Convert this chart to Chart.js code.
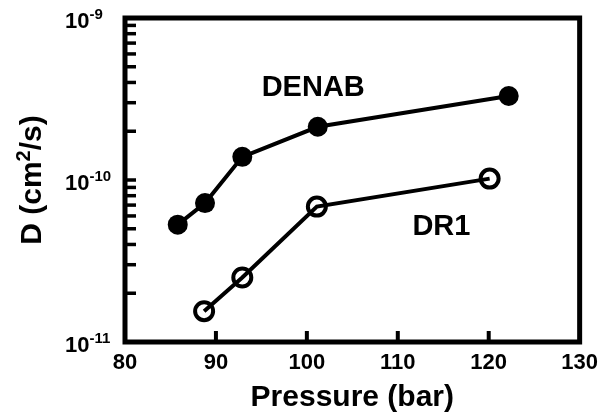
<!DOCTYPE html>
<html>
<head>
<meta charset="utf-8">
<script src="https://cdn.jsdelivr.net/npm/chart.js@4.4.1/dist/chart.umd.min.js"></script>
<style>
  body { margin: 0; background: #fff; }
  canvas { display: block; }
</style>
</head>
<body>
<canvas id="myChart" width="606" height="416"></canvas>
<script>
// data
const pressureDENAB = [85.8, 88.8, 92.9, 101.2, 122.2];
const diffDENAB = [5.3e-11, 7.2e-11, 1.39e-10, 2.13e-10, 3.3e-10];

const pressureDR1 = [88.7, 92.9, 101.1, 120.1];
const diffDR1 = [1.55e-11, 2.5e-11, 6.85e-11, 1.02e-10];

const xTicks = [80, 90, 100, 110, 120, 130];
const yExponents = [-9, -10, -11];

const seriesNames = ['DENAB', 'DR1'];
const nameX = [100.7, 114.8];
const nameY = [3.7e-10, 5.1e-11];

const FONT = '"Liberation Sans", Arial, Helvetica, sans-serif';

function toPoints(xs, ys) {
  return xs.map((x, i) => ({ x: x, y: ys[i] }));
}

// frame, inward ticks, 10^n labels, y title and series names
const decorations = {
  id: 'decorations',
  afterDraw(chart) {
    const ctx = chart.ctx;
    const area = chart.chartArea;
    const xs = chart.scales.x;
    const ys = chart.scales.y;
    ctx.save();
    ctx.strokeStyle = '#000';
    ctx.fillStyle = '#000';

    // x ticks pointing up
    ctx.lineWidth = 4;
    xTicks.slice(1, -1).forEach(v => {
      const px = xs.getPixelForValue(v);
      ctx.beginPath();
      ctx.moveTo(px, area.bottom);
      ctx.lineTo(px, area.bottom - 11);
      ctx.stroke();
    });

    // y minor ticks on the left side
    ctx.lineWidth = 3.5;
    for (let d = -11; d < -9; d++) {
      for (let m = 1; m <= 9; m++) {
        if (m === 1 && d === -11) continue;
        const py = ys.getPixelForValue(m * Math.pow(10, d));
        ctx.beginPath();
        ctx.moveTo(area.left, py);
        ctx.lineTo(area.left + 11, py);
        ctx.stroke();
      }
    }

    // frame
    ctx.lineWidth = 5;
    ctx.strokeRect(area.left, area.top, area.right - area.left, area.bottom - area.top);

    // y labels as 10 with a superscript exponent
    ctx.textBaseline = 'alphabetic';
    ctx.textAlign = 'left';
    yExponents.forEach(e => {
      const py = ys.getPixelForValue(Math.pow(10, e));
      ctx.font = 'bold 22px ' + FONT;
      ctx.fillText('10', 65, py + 10);
      const w = ctx.measureText('10').width;
      ctx.font = 'bold 15px ' + FONT;
      ctx.fillText('-' + Math.abs(e), 65 + w, py + 1);
    });

    // y title with a real superscript 2
    const parts = [['D (cm', 30, 0], ['2', 20, -11], ['/s)', 30, 0]];
    let total = 0;
    parts.forEach(p => {
      ctx.font = 'bold ' + p[1] + 'px ' + FONT;
      total += ctx.measureText(p[0]).width;
    });
    ctx.translate(41, (area.top + area.bottom) / 2);
    ctx.rotate(-Math.PI / 2);
    let cx = -total / 2;
    parts.forEach(p => {
      ctx.font = 'bold ' + p[1] + 'px ' + FONT;
      ctx.fillText(p[0], cx, p[2]);
      cx += ctx.measureText(p[0]).width;
    });
    ctx.setTransform(1, 0, 0, 1, 0, 0);

    // series names
    ctx.font = 'bold 29px ' + FONT;
    ctx.textAlign = 'center';
    ctx.textBaseline = 'middle';
    seriesNames.forEach((name, i) => {
      ctx.fillText(name, xs.getPixelForValue(nameX[i]), ys.getPixelForValue(nameY[i]));
    });
    ctx.restore();
  }
};

const ctx = document.getElementById('myChart').getContext('2d');

const config = {
  type: 'scatter',
  data: {
    datasets: [
      {
        label: seriesNames[0],
        data: toPoints(pressureDENAB, diffDENAB),
        showLine: true,
        borderColor: '#000',
        borderWidth: 4,
        pointRadius: 10,
        pointBorderWidth: 0,
        pointBackgroundColor: '#000',
        pointBorderColor: '#000'
      },
      {
        label: seriesNames[1],
        data: toPoints(pressureDR1, diffDR1),
        showLine: true,
        borderColor: '#000',
        borderWidth: 4,
        pointRadius: 9,
        pointBorderWidth: 4,
        pointBackgroundColor: 'rgba(0,0,0,0)',
        pointBorderColor: '#000'
      }
    ]
  },
  options: {
    responsive: false,
    animation: false,
    devicePixelRatio: 1,
    layout: { padding: { top: 18, right: 20, left: 0, bottom: 0 } },
    plugins: {
      legend: { display: false },
      tooltip: { enabled: false }
    },
    scales: {
      x: {
        type: 'linear',
        min: 80,
        max: 130,
        afterBuildTicks: scale => { scale.ticks = xTicks.map(v => ({ value: v })); },
        afterFit: scale => { scale.height = 74; },
        grid: { display: false, drawTicks: false },
        border: { display: false },
        ticks: {
          color: '#000',
          padding: 8,
          maxRotation: 0,
          font: { family: FONT, size: 22, weight: 'bold' }
        },
        title: {
          display: true,
          text: 'Pressure (bar)',
          color: '#000',
          padding: { top: 0, bottom: 0 },
          font: { family: FONT, size: 30, weight: 'bold' }
        }
      },
      y: {
        type: 'logarithmic',
        min: 1e-11,
        max: 1e-9,
        afterFit: scale => { scale.width = 125; },
        grid: { display: false, drawTicks: false },
        border: { display: false },
        ticks: { display: false },
        title: { display: false }
      }
    }
  },
  plugins: [decorations]
};

const myChart = new Chart(ctx, config);
</script>
</body>
</html>
